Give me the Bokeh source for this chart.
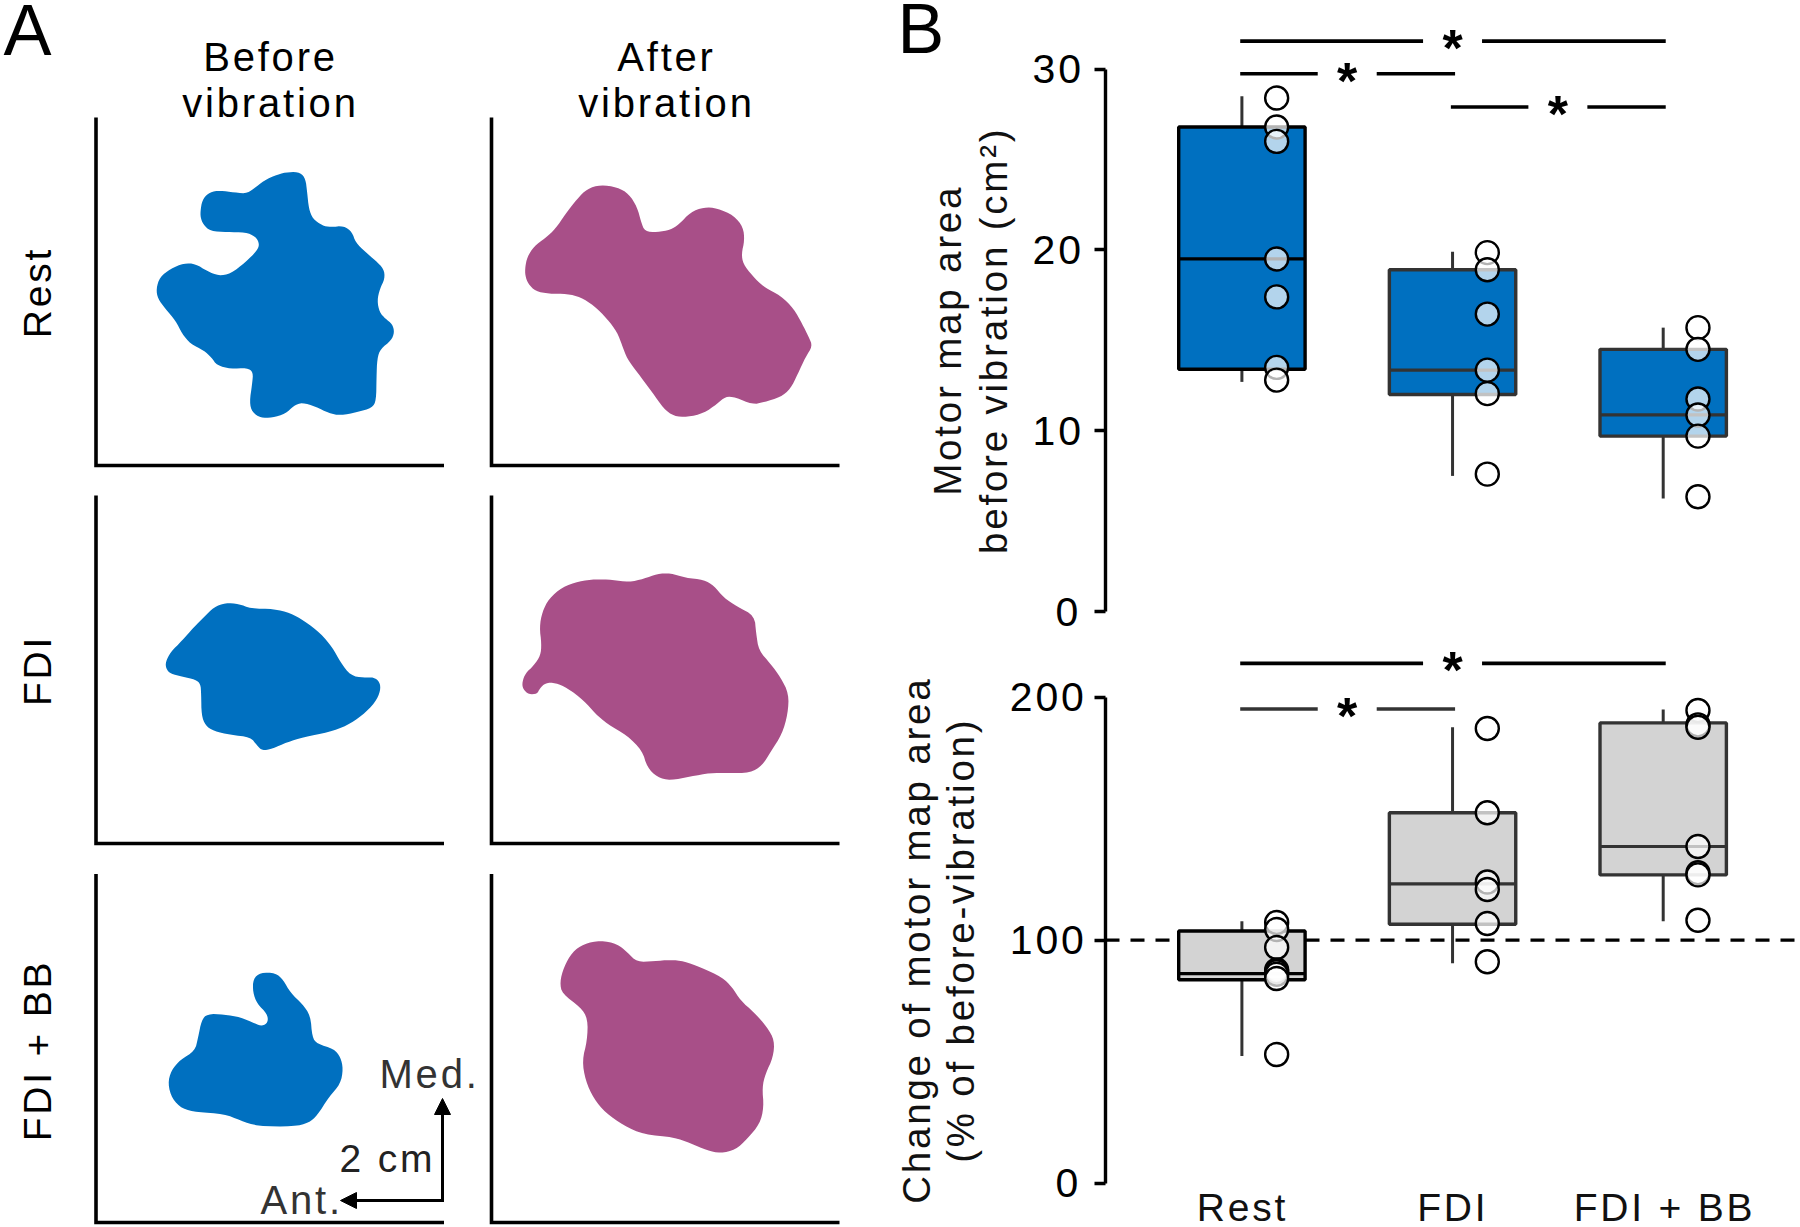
from bokeh.plotting import figure
from bokeh.layouts import row, column
from bokeh.models import Label, FixedTicker, Range1d, Arrow, NormalHead
from bokeh.embed import file_html
from bokeh.resources import INLINE

# ---------- data ----------
categories = ["Rest", "FDI", "FDI + BB"]
cat_x = [1, 2, 3]

area_whisk_low = [12.7, 7.5, 6.25]
area_q1 = [13.4, 12.0, 9.7]
area_median = [19.5, 13.35, 10.87]
area_q3 = [26.8, 18.9, 14.5]
area_whisk_high = [28.5, 19.9, 15.7]
area_points_rest = [28.4, 26.8, 26.0, 19.5, 17.4, 13.5, 12.8]
area_points_fdi = [19.85, 18.9, 16.45, 13.35, 12.05, 7.6]
area_points_bb = [15.7, 14.5, 11.75, 10.87, 9.7, 6.35]

change_whisk_low = [52.3, 90.5, 107.8]
change_q1 = [83.7, 106.6, 126.9]
change_median = [86.2, 123.2, 138.6]
change_q3 = [103.8, 152.5, 189.5]
change_whisk_high = [107.8, 187.7, 195.0]
change_points_rest = [107.3, 104.4, 97.0, 87.7, 87.0, 86.0, 84.2, 52.9]
change_points_fdi = [187.2, 152.5, 124.0, 120.9, 106.9, 91.1]
change_points_bb = [194.6, 188.7, 187.7, 138.6, 127.8, 126.9, 108.2]

area_sig = [(1, 3, 31.55), (1, 2, 29.74), (2, 3, 27.9)]
change_sig = [(1, 3, 214.0), (1, 2, 195.2)]

# outlines, in 3x crop coordinates
rest_before = [(600,630),(605,600),(622,578),(650,570),(690,574),(735,580),(760,565),(790,540),(830,522),(865,514),(900,516),(915,535),(920,575),(925,625),(937,655),(965,675),(990,680),(1030,676),(1055,695),(1065,725),(1095,755),(1125,780),(1150,805),(1153,835),(1138,865),(1130,900),(1137,935),(1155,955),(1175,970),(1182,995),(1172,1020),(1140,1045),(1130,1075),(1128,1130),(1127,1200),(1115,1222),(1070,1235),(1020,1245),(985,1238),(945,1218),(905,1206),(880,1215),(855,1240),(815,1252),(780,1252),(755,1235),(747,1205),(755,1150),(758,1115),(740,1102),(690,1105),(650,1095),(632,1070),(610,1050),(570,1030),(545,1000),(525,960),(495,925),(472,895),(467,865),(478,830),(510,805),(550,788),(585,790),(620,812),(655,826),(690,820),(735,785),(770,750),(777,730),(765,708),(735,695),(680,695),(630,692),(608,672),(600,650)]
rest_after = [(194,800),(200,770),(220,738),(255,712),(285,685),(315,640),(350,595),(380,565),(420,553),(470,560),(505,580),(530,620),(542,665),(553,693),(590,695),(630,688),(655,672),(690,635),(730,620),(770,623),(820,645),(848,680),(852,720),(843,760),(848,790),(875,825),(910,860),(960,885),(1000,925),(1025,970),(1045,1010),(1056,1037),(1035,1070),(1012,1120),(990,1165),(960,1190),(910,1205),(875,1212),(825,1190),(795,1188),(770,1210),(730,1238),(680,1250),(640,1247),(610,1225),(575,1175),(530,1115),(500,1075),(485,1035),(470,995),(440,955),(400,915),(360,890),(320,880),(265,880),(225,872),(203,850),(194,825)]
fdi_before = [(495,545),(510,515),(545,480),(580,440),(610,410),(640,380),(675,367),(715,370),(750,384),(820,385),(870,398),(910,420),(960,458),(995,500),(1020,545),(1050,585),(1090,592),(1120,590),(1138,605),(1140,630),(1125,665),(1085,705),(1040,735),(985,755),(910,770),(860,785),(815,805),(785,810),(770,795),(750,770),(690,763),(640,752),(615,735),(603,705),(602,640),(600,610),(585,597),(545,588),(510,580),(497,565)]
fdi_after = [(185,605),(195,578),(220,555),(240,525),(243,490),(237,440),(245,395),(265,355),(305,320),(355,302),(405,296),(455,298),(505,305),(550,295),(590,280),(630,278),(675,292),(730,298),(760,315),(790,352),(830,378),(882,405),(887,460),(895,510),(930,550),(960,590),(985,640),(982,700),(965,760),(930,815),(905,855),(870,877),(800,878),(750,877),(690,888),(630,900),(590,890),(560,860),(545,810),(500,765),(440,730),(405,700),(370,660),(320,622),(285,607),(255,607),(237,625),(230,640),(205,642),(187,625)]
bb_before = [(502,670),(512,630),(540,597),(583,572),(593,530),(603,480),(620,460),(670,462),(720,470),(765,490),(785,497),(803,485),(800,460),(770,430),(757,395),(758,355),(780,336),(825,337),(848,358),(870,397),(905,430),(930,465),(935,530),(950,550),(1000,565),(1020,590),(1028,625),(1020,670),(985,710),(950,765),(925,787),(880,798),(770,797),(720,780),(670,760),(590,755),(545,745),(515,715)]
bb_after = [(238,365),(250,320),(275,275),(310,250),(360,240),(410,250),(440,275),(470,305),(520,302),(570,298),(610,302),(660,320),(725,350),(755,380),(780,420),(820,455),(860,500),(882,540),(878,590),(855,640),(845,680),(850,740),(838,790),(800,835),(765,868),(720,878),(680,870),(630,848),(580,830),(490,822),(430,795),(375,757),(340,715),(315,660),(305,600),(320,540),(322,475),(300,440),(245,400)]

# ---------- style ----------
FONT = "Liberation Sans"
BLUE = "#0070C0"
PURPLE = "#A84F88"
GREY = "#D3D3D3"
LS = 2.8
FSIZE = 40
KX = 210.65   # px per category
CX = 1241.4   # px of category 1
KA = 18.08    # px per unit, area plot
KC = 2.428    # px per unit, change plot


def chaikin(pts, n=2):
    for _ in range(n):
        out = []
        for i, (x0, y0) in enumerate(pts):
            x1, y1 = pts[(i + 1) % len(pts)]
            out.append((0.75 * x0 + 0.25 * x1, 0.75 * y0 + 0.25 * y1))
            out.append((0.25 * x0 + 0.75 * x1, 0.25 * y0 + 0.75 * y1))
        pts = out
    return pts


def label(fig, x, y, text, size=FSIZE, color="black", vertical=False, align="center", sx=1.0, sy=-1.0):
    """Place text by its baseline; compensates for tracking that text measurement ignores."""
    extra = len(text) * LS / 2 if align == "center" else 0
    lift = 0.36 * size
    if vertical:
        x = x - lift / sx
        y = y - extra / sy
    else:
        x = x - extra / sx
        y = y + lift / sy
    fig.add_layout(Label(x=x, y=y, text=text, text_font=FONT, text_font_size=f"{size}px", text_color=color,
                         angle=1.5708 if vertical else 0, text_align=align, text_baseline="alphabetic"))


# ---------- panel A ----------
pa = figure(width=880, height=1227, x_range=Range1d(0, 880), y_range=Range1d(1227, 0),
            output_backend="svg", toolbar_location=None, min_border=0, outline_line_color=None)
pa.axis.visible = False
pa.grid.visible = False

for outline, ox, oy, col in [
    (rest_before, 0, 0, BLUE), (rest_after, 460, 0, PURPLE),
    (fdi_before, 0, 480, BLUE), (fdi_after, 460, 480, PURPLE),
    (bb_before, 0, 860, BLUE), (bb_after, 480, 860, PURPLE),
]:
    smooth = chaikin(outline)
    pa.patch([ox + a / 3 for a, b in smooth], [oy + b / 3 for a, b in smooth],
             fill_color=col, line_color=None)

for x0 in [95.5, 491]:
    for top_px, bottom_px in [(117, 465), (495, 843), (873.5, 1222)]:
        pa.line([x0, x0, x0 + 348], [top_px, bottom_px, bottom_px], line_color="black", line_width=3.6,
                line_join="miter", line_cap="butt")

pa.add_layout(Arrow(end=NormalHead(size=16, fill_color="black", line_color="black"),
                    x_start=442, y_start=1201.5, x_end=442, y_end=1098, line_color="black", line_width=3))
pa.add_layout(Arrow(end=NormalHead(size=16, fill_color="black", line_color="black"),
                    x_start=443.5, y_start=1200, x_end=340, y_end=1200, line_color="black", line_width=3))

label(pa, 3, 55, "A", size=72, align="left")
label(pa, 270, 71, "Before")
label(pa, 270, 117, "vibration")
label(pa, 666, 71, "After")
label(pa, 666, 117, "vibration")
for y, t in [(292, "Rest"), (670, "FDI"), (1050, "FDI + BB")]:
    label(pa, 51, y, t, size=39, vertical=True)
label(pa, 379, 1088, "Med.", color="#333333", align="left")
label(pa, 339, 1172, "2 cm", size=39, align="left", color="#222222")
label(pa, 260, 1214, "Ant.", color="#333333", align="left")


# ---------- panel B ----------
def fx(px):
    return 1 + (px - CX) / KX


def boxes(fig, q1, med, q3, lo, hi, fill, edges):
    fig.segment(cat_x, q3, cat_x, hi, line_color="#333333", line_width=3)
    fig.segment(cat_x, q1, cat_x, lo, line_color="#333333", line_width=3)
    fig.vbar(x=cat_x, width=0.6, bottom=q1, top=q3, fill_color=fill, line_color=edges, line_width=3.4)
    fig.segment([x - 0.3 for x in cat_x], med, [x + 0.3 for x in cat_x], med, line_color=edges, line_width=3.2)


def dots(fig, i, vals):
    fig.scatter([cat_x[i] + 0.165] * len(vals), vals, size=23, fill_color="white", fill_alpha=0.7,
                line_color="black", line_width=2.4)


def sig(fig, bars, colors):
    for (a, b, y), c in zip(bars, colors):
        mid = (a + b) / 2
        fig.segment([a - 0.008, mid + 0.14], [y, y], [mid - 0.14, b + 0.012], [y, y], line_color=c, line_width=3.6)
        fig.text([mid], [y], text=["*"], text_font={"value": FONT}, text_font_size={"value": "52px"},
                 text_font_style="bold", text_align="center", text_baseline="top", text_color="black", y_offset=-22)


def base(height, y0, y1, ticks, bounds):
    f = figure(width=920, height=height, x_range=Range1d(fx(880), fx(1800)), y_range=Range1d(y0, y1),
               output_backend="svg", toolbar_location=None, min_border=0, outline_line_color=None)
    f.grid.visible = False
    f.xaxis.visible = False
    ax = f.yaxis[0]
    ax.fixed_location = fx(1104.7)
    ax.bounds = bounds
    ax.ticker = FixedTicker(ticks=ticks)
    ax.major_tick_in = 0
    ax.major_tick_out = 11
    ax.minor_tick_line_color = None
    ax.major_tick_line_width = 3.4
    ax.axis_line_width = 3.4
    ax.major_tick_line_color = "black"
    ax.axis_line_color = "black"
    ax.major_label_text_font = FONT
    ax.major_label_text_font_size = "41px"
    ax.major_label_text_color = "black"
    ax.major_label_standoff = 16
    return f


top = base(640, -29 / KA, 611 / KA, [0, 10, 20, 30], (0, 30))
boxes(top, area_q1, area_median, area_q3, area_whisk_low, area_whisk_high, BLUE, ["black", "#333333", "#333333"])
for i, v in enumerate([area_points_rest, area_points_fdi, area_points_bb]):
    dots(top, i, v)
sig(top, area_sig, ["black", "black", "black"])
label(top, fx(960.5), 15, "Motor map area", size=38.5, color="#111111", vertical=True, sx=KX, sy=KA)
label(top, fx(1007), 15, "before vibration (cm²)", size=38.5, color="#111111", vertical=True, sx=KX, sy=KA)
label(top, fx(897), 30.8, "B", size=70, align="left", sx=KX, sy=KA)

bot = base(587, -44.5 / KC, 542.5 / KC, [0, 100, 200], (0, 200))
bot.segment([fx(1105)], [100], [fx(1800)], [100], line_color="black", line_width=3.2, line_dash="14 11")
boxes(bot, change_q1, change_median, change_q3, change_whisk_low, change_whisk_high, GREY, ["black", "#333333", "#333333"])
for i, v in enumerate([change_points_rest, change_points_fdi, change_points_bb]):
    dots(bot, i, v)
sig(bot, change_sig, ["black", "#333333"])
xa = bot.xaxis[0]
xa.visible = True
xa.fixed_location = 0
label_ticks = [0.976, 1.981, 2.953]
xa.ticker = FixedTicker(ticks=label_ticks)
xa.major_label_overrides = dict(zip(label_ticks, categories))
xa.axis_line_color = None
xa.major_tick_line_color = None
xa.minor_tick_line_color = None
xa.major_label_text_font = FONT
xa.major_label_text_font_size = "39px"
xa.major_label_text_color = "#111111"
xa.major_label_standoff = -3
label(bot, fx(930), 100, "Change of motor map area", size=38.5, color="#111111", vertical=True, sx=KX, sy=KC)
label(bot, fx(974), 100, "(% of before-vibration)", size=38.5, color="#111111", vertical=True, sx=KX, sy=KC)

root = row(pa, column(top, bot, spacing=0), spacing=0)
root.styles = {"position": "absolute", "left": "0", "top": "0", "letter-spacing": f"{LS}px"}

open("out.html", "w").write(file_html(root, INLINE))
